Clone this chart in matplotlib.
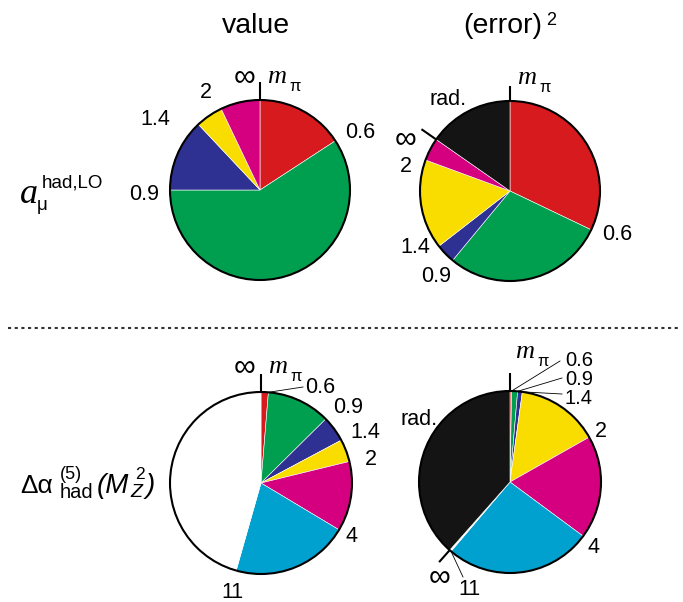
import numpy as np
import matplotlib
matplotlib.use('Agg')
import matplotlib.pyplot as plt
from matplotlib.patches import Circle

W, H = 683, 602

plt.rcParams['font.family'] = ['Liberation Sans', 'DejaVu Sans']

RED = '#d71a1e'
GREEN = '#009e4f'
BLUE = '#2e3192'
YELLOW = '#f9dc00'
MAGENTA = '#d5007f'
CYAN = '#00a1cf'
BLACK = '#141414'
WHITE = '#ffffff'

# share (%) of each energy interval, clockwise from the top (m_pi first)
amu_value = [15.8, 59.2, 13.0, 4.9, 7.1]
amu_value_colors = [RED, GREEN, BLUE, YELLOW, MAGENTA]

amu_error = [32.1, 28.9, 3.5, 16.1, 4.1, 15.3]
amu_error_colors = [RED, GREEN, BLUE, YELLOW, MAGENTA, BLACK]

dalpha_value = [1.3, 11.3, 4.6, 4.0, 12.4, 20.8, 45.6]
dalpha_value_colors = [RED, GREEN, BLUE, YELLOW, MAGENTA, CYAN, WHITE]

dalpha_error = [0.28, 1.06, 0.83, 14.64, 18.33, 26.08, 0.31, 38.47]
dalpha_error_colors = [RED, GREEN, BLUE, YELLOW, MAGENTA, CYAN, WHITE, BLACK]

col_titles = ['value', '(error)']


def Y(y):
    return H - y


def edge_point(vals, k, cx, cy, r):
    # point on the circle at the k-th slice boundary (image coords)
    th = 2 * np.pi * sum(vals[:k]) / sum(vals)
    return cx + r * np.sin(th), cy - r * np.cos(th)


def draw_pie(ax, vals, colors, cx, cy, r):
    ax.pie(vals, colors=colors, startangle=90, counterclock=False,
           center=(cx, Y(cy)), radius=r, frame=True,
           wedgeprops=dict(linewidth=0.4, edgecolor='white'))
    ax.add_patch(Circle((cx, Y(cy)), r, fill=False, lw=1.5, ec='black', zorder=3))


def tick(ax, vals, k, cx, cy, r, length=18):
    x0, y0 = edge_point(vals, k, cx, cy, r)
    x1, y1 = edge_point(vals, k, cx, cy, r + length)
    ax.plot([x0, x1], [Y(y0), Y(y1)], color='black', lw=1.5, solid_capstyle='butt', zorder=4)


def leader(ax, vals, k, cx, cy, r, x1, y1):
    x0, y0 = edge_point(vals, k, cx, cy, r)
    ax.plot([x0, x1], [Y(y0), Y(y1)], color='black', lw=0.6, zorder=4)


def txt(ax, x, y, s, size=15.5, ha='left', **kw):
    ax.text(x, Y(y), s, size=size, ha=ha, va='baseline', **kw)


def mpi(ax, x, y):
    txt(ax, x, y, 'm', size=19, family='Liberation Serif', style='italic')
    txt(ax, x + 22, y + 8, 'π', size=12)


def inf(ax, x, y):
    txt(ax, x, y, '∞', size=22, ha='center')


fig = plt.figure(figsize=(W / 100, H / 100), dpi=100)
ax = fig.add_axes([0, 0, 1, 1])

# column titles
txt(ax, 256, 33, col_titles[0], size=20.5, ha='center')
txt(ax, 503, 33, col_titles[1], size=20.5, ha='center')
txt(ax, 546, 25, '2', size=13)

# row labels
txt(ax, 20, 203, 'a', size=26, family='Liberation Serif', style='italic')
txt(ax, 42, 188, 'had,LO', size=13.5)
txt(ax, 37, 210, 'μ', size=13.5)

txt(ax, 20, 493, 'Δα', size=19)
txt(ax, 60, 479, '(5)', size=13)
txt(ax, 60, 498, 'had', size=14.5)
txt(ax, 97, 493, '(M', size=20, style='italic')
txt(ax, 135, 479, '2', size=12.5)
txt(ax, 130, 497, 'Z', size=14, style='italic')
txt(ax, 146, 493, ')', size=20, style='italic')

# separator
ax.plot([8, 681], [Y(328), Y(328)], color='#333333', lw=1.5, ls=(0, (1.5, 1.7)))

# a_mu, value
cx, cy, r = 260, 190, 90
v = amu_value
draw_pie(ax, v, amu_value_colors, cx, cy, r)
tick(ax, v, 0, cx, cy, r)
inf(ax, 245, 85)
mpi(ax, 267, 83)
txt(ax, 360, 138, '0.6', ha='center')
txt(ax, 144, 200, '0.9', ha='center')
txt(ax, 155, 125, '1.4', ha='center')
txt(ax, 206, 98, '2', ha='center')

# a_mu, error^2
cx, cy, r = 510, 191, 90
v = amu_error
draw_pie(ax, v, amu_error_colors, cx, cy, r)
tick(ax, v, 0, cx, cy, r, length=15)
tick(ax, v, 5, cx, cy, r, length=18)
mpi(ax, 517, 84)
txt(ax, 448, 105, 'rad.', ha='center')
inf(ax, 406, 147)
txt(ax, 406, 172, '2', ha='center')
txt(ax, 415, 253, '1.4', ha='center')
txt(ax, 436, 282, '0.9', ha='center')
txt(ax, 602, 240, '0.6')

# delta alpha, value
cx, cy, r = 261, 483, 91
v = dalpha_value
draw_pie(ax, v, dalpha_value_colors, cx, cy, r)
tick(ax, v, 0, cx, cy, r)
leader(ax, v, 1, cx, cy, r, 303, 387)
inf(ax, 245, 375)
mpi(ax, 268, 373)
txt(ax, 305, 393, '0.6')
txt(ax, 333, 413, '0.9')
txt(ax, 350, 438, '1.4')
txt(ax, 365, 465, '2')
txt(ax, 345, 542, '4')
txt(ax, 232, 598, '11', ha='center')

# delta alpha, error^2
cx, cy, r = 510, 482, 91
v = dalpha_error
draw_pie(ax, v, dalpha_error_colors, cx, cy, r)
tick(ax, v, 0, cx, cy, r)
tick(ax, v, 7, cx, cy, r, length=16)
leader(ax, v, 1, cx, cy, r, 560, 361)
leader(ax, v, 2, cx, cy, r, 562, 378)
leader(ax, v, 3, cx, cy, r, 562, 394)
leader(ax, v, 6, cx, cy, r, 463, 577)
mpi(ax, 515, 358)
txt(ax, 565, 366, '0.6', size=14.5)
txt(ax, 565, 385, '0.9', size=14.5)
txt(ax, 565, 404, '1.4', size=14.5)
txt(ax, 595, 437, '2')
txt(ax, 587, 553, '4')
txt(ax, 419, 425, 'rad.', ha='center')
inf(ax, 440, 585)
txt(ax, 469, 595, '11', ha='center')

ax.set_xlim(0, W)
ax.set_ylim(0, H)
ax.set_aspect('equal')
ax.axis('off')

fig.savefig('out.png', dpi=100)
